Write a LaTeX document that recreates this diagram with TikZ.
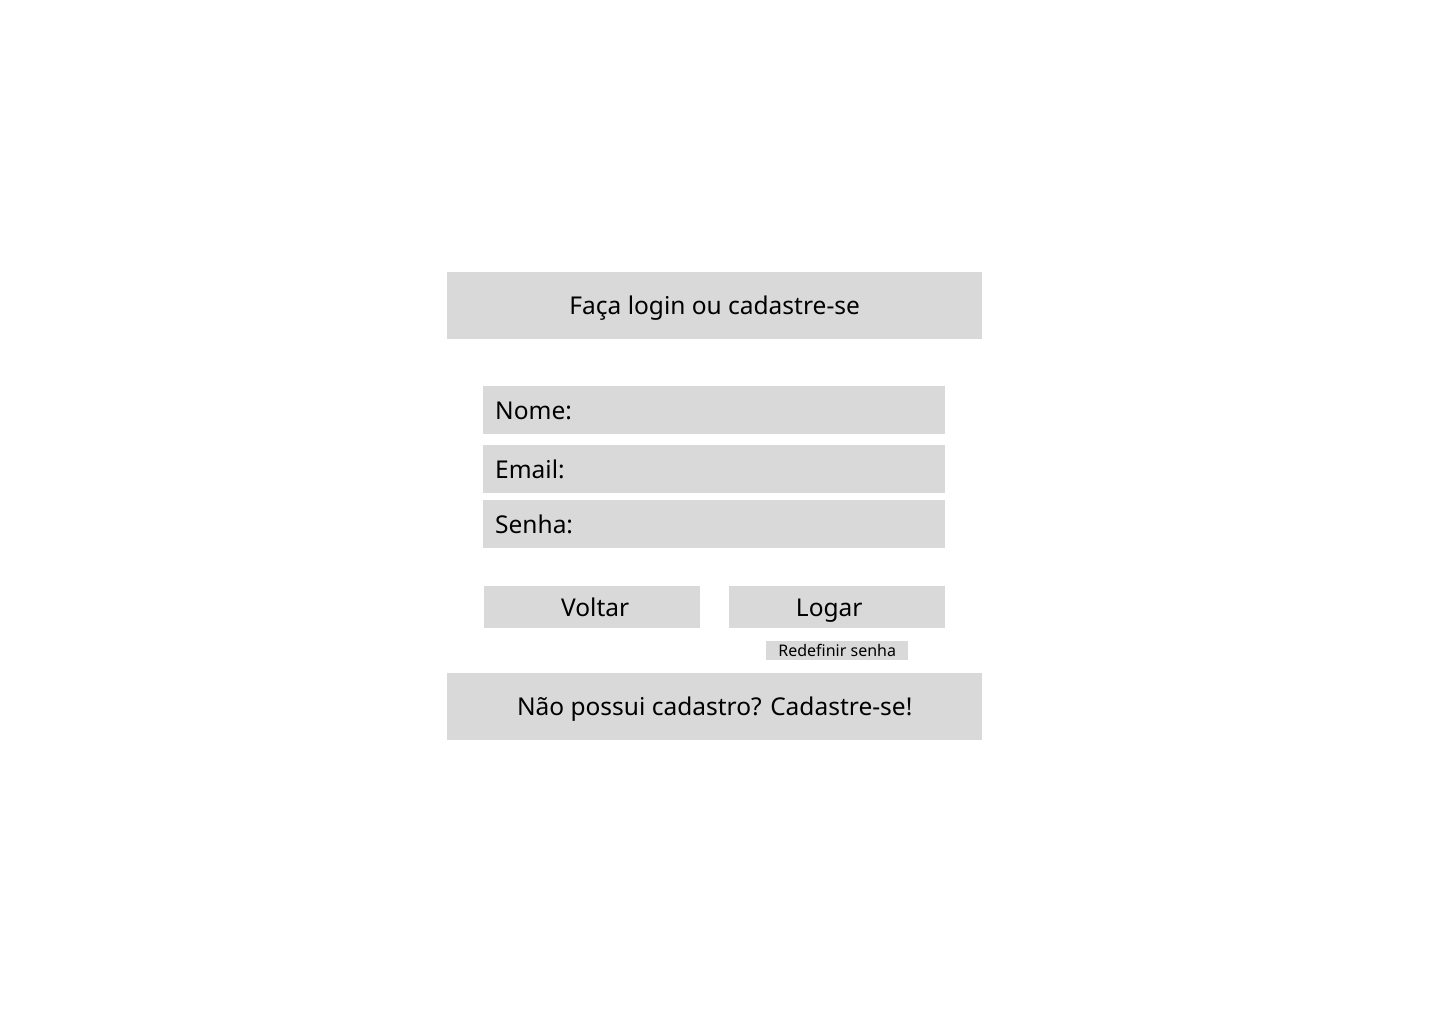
\documentclass[tikz,border=0pt]{standalone}
\usepackage{fontspec}
\setmainfont{Noto Sans}
\definecolor{boxgray}{HTML}{D9D9D9}
\tikzset{
  box/.style={fill=boxgray, draw=none, inner sep=0pt, anchor=north west, text height=20pt, text depth=2pt, font=\fontsize{24.5}{28}\selectfont},
  field/.style={box, align=left, text width=438pt, inner xsep=12pt, minimum height=48pt},
  btn/.style={box, minimum width=216pt, minimum height=42pt},
  wide/.style={box, minimum width=535pt, minimum height=67pt},
  small/.style={box, minimum width=142pt, minimum height=19pt, text height=12pt, text depth=0pt, font=\fontsize{16}{18}\selectfont}
}
\begin{document}
\begin{tikzpicture}[x=1pt,y=-1pt]
\path[use as bounding box, fill=white] (0,0) rectangle (1433,1018);
\node[wide] (title) at (447,272) {Faça login ou cadastre-se};
\node[field] (nome) at (483,386) {Nome:};
\node[field] (email) at (483,445) {Email:};
\node[field] (senha) at (483,500) {Senha:};
\node[btn] (voltar) at (484,586) {\kern6pt Voltar};
\node[btn] (logar) at (729,586) {Logar\kern16pt};
\node[small] (redef) at (766,641) {Redefinir senha};
\node[wide] (cad) at (447,673) {Não possui cadastro? Cadastre-se!};
\end{tikzpicture}
\end{document}
